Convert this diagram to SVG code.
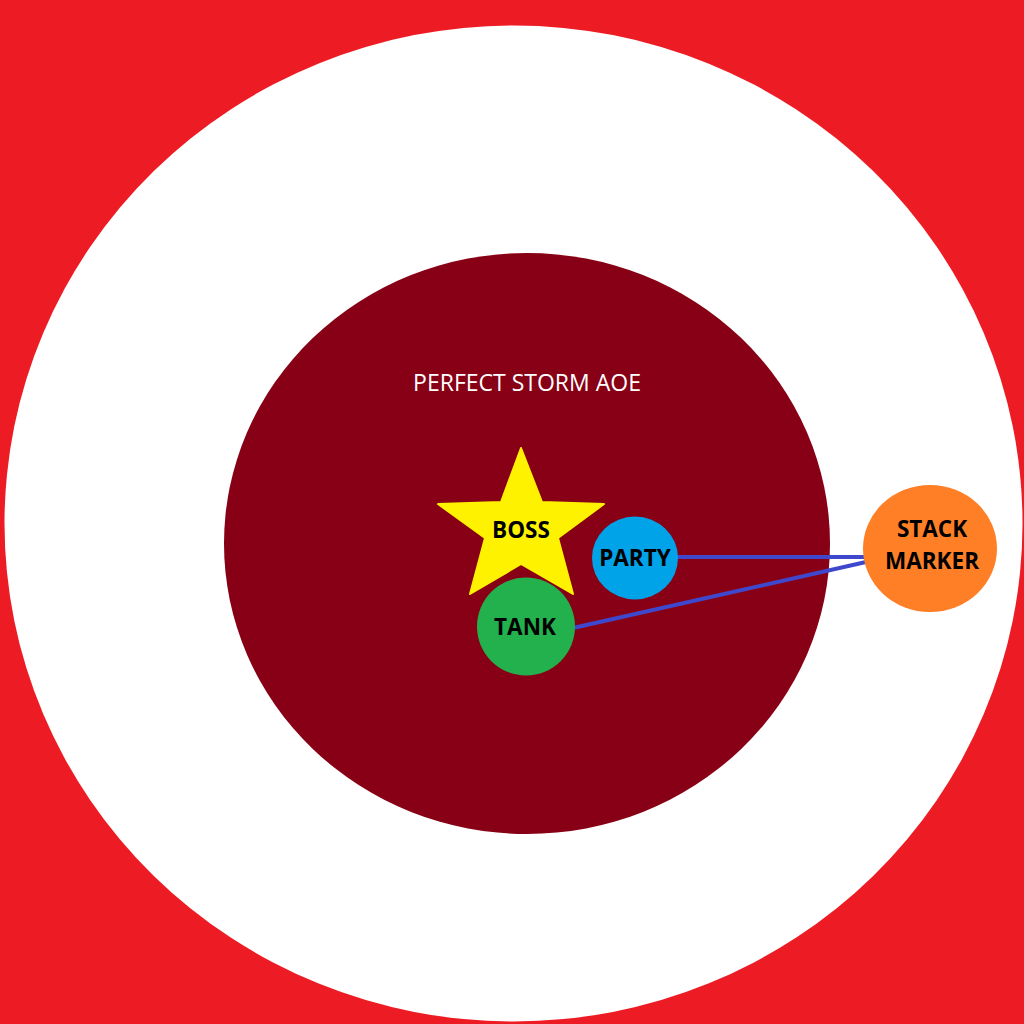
<svg xmlns="http://www.w3.org/2000/svg" width="1024" height="1024" viewBox="0 0 1024 1024">
<style>
.lbl{font-family:"Open Sans","Liberation Sans",sans-serif;font-weight:700;font-size:22.5px;fill:#000;text-anchor:middle}
.title{font-family:"Open Sans","Liberation Sans",sans-serif;font-size:23px;fill:#fff;text-anchor:middle}
.conn{stroke:#3f48cc;stroke-width:4;fill:none}
</style>
<rect width="1024" height="1024" fill="#ed1c24"/>
<ellipse cx="513.5" cy="523.5" rx="509" ry="498" fill="#fff"/>
<g id="aoe">
<ellipse cx="527" cy="543.5" rx="303" ry="290.5" fill="#880015"/>
<text class="title" x="527" y="391">PERFECT STORM AOE</text>
</g>
<g id="connectors">
<line class="conn" x1="676" y1="557" x2="866" y2="557"/>
<line class="conn" x1="573" y1="628" x2="866" y2="562"/>
</g>
<g id="boss">
<polygon points="521,448 542,502 604,504 558,538 573,594 521,564 470,594 485,538 438,504 501,502" fill="#fff200" stroke="#fff200" stroke-width="2" stroke-linejoin="round"/>
<text class="lbl" x="521" y="538">BOSS</text>
</g>
<g id="party">
<ellipse cx="635" cy="558" rx="43" ry="41.5" fill="#00a2e8"/>
<text class="lbl" x="635" y="566">PARTY</text>
</g>
<g id="tank">
<circle cx="526" cy="626.5" r="49" fill="#22b14c"/>
<text class="lbl" x="525" y="635">TANK</text>
</g>
<g id="stack-marker">
<ellipse cx="930" cy="548.5" rx="67" ry="63.5" fill="#ff7f27"/>
<text class="lbl" x="932" y="537">STACK</text>
<text class="lbl" x="932" y="569">MARKER</text>
</g>
</svg>
